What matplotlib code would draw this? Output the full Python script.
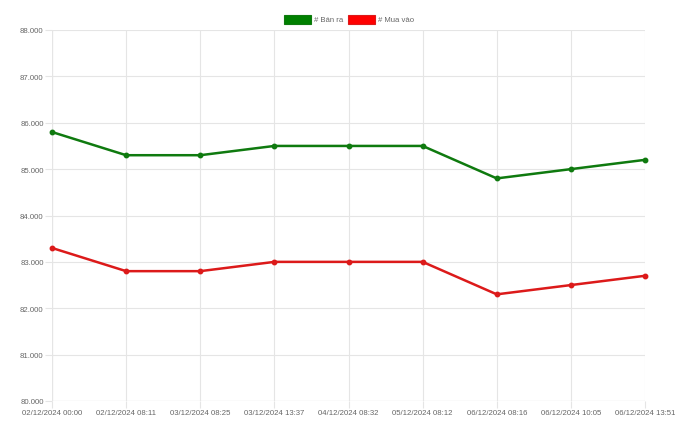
import matplotlib
matplotlib.use("Agg")
import matplotlib.pyplot as plt
from matplotlib.patches import Rectangle
from matplotlib.ticker import FuncFormatter, MultipleLocator

labels = ["02/12/2024 00:00", "02/12/2024 08:11", "03/12/2024 08:25", "03/12/2024 13:37",
          "04/12/2024 08:32", "05/12/2024 08:12", "06/12/2024 08:16", "06/12/2024 10:05",
          "06/12/2024 13:51"]
ban_ra = [85800, 85300, 85300, 85500, 85500, 85500, 84800, 85000, 85200]
mua_vao = [83300, 82800, 82800, 83000, 83000, 83000, 82300, 82500, 82700]
series_names = ["# Bán ra", "# Mua vào"]

plt.rcParams['font.family'] = ['Liberation Sans', 'DejaVu Sans']

fig = plt.figure(figsize=(6.8, 4.35), dpi=100)
ax = fig.add_axes([52/680, 1-402/435, (645-52)/680, (402-31)/435])

x = list(range(len(labels)))
green = "#0f7a0f"
red = "#dc1a1a"
ax.plot(x, ban_ra, color=green, lw=1.8, marker='o', ms=3.2, zorder=3, clip_on=False)
ax.plot(x, mua_vao, color=red, lw=1.8, marker='o', ms=3.2, zorder=3, clip_on=False)

ax.set_xlim(0, len(labels)-1)
ax.set_ylim(80000, 88000)
ax.yaxis.set_major_locator(MultipleLocator(1000))
ax.yaxis.set_major_formatter(FuncFormatter(lambda v, p: f"{int(v):,}".replace(",", ".")))
ax.set_xticks(x)
ax.set_xticklabels(labels)
ax.grid(True, color="#e5e5e5", lw=0.8)
for s in ax.spines.values():
    s.set_visible(False)
ax.axvline(0, color="#d0d0d0", lw=0.8, zorder=1)
ax.axhline(80000, color="#d0d0d0", lw=0.8, zorder=1)
ax.tick_params(axis='both', colors="#e5e5e5", labelcolor="#666666", labelsize=5.6, length=5, width=0.8)
ax.tick_params(axis='x', pad=1)
ax.tick_params(axis='y', pad=1)

# legend (Chart.js style)
def legend_item(xpx, color, edge, text):
    fig.patches.append(Rectangle((xpx/680, 1-25/435), 27/680, 9/435, transform=fig.transFigure,
                                 facecolor=color, edgecolor=edge, lw=0.8))
    fig.text((xpx+30)/680, 1-20.5/435, text, fontsize=5.6, color="#666666", va='center', ha='left')

legend_item(284, "#008000", green, series_names[0])
legend_item(348, "#ff0000", red, series_names[1])

fig.savefig("out.png", dpi=100)
